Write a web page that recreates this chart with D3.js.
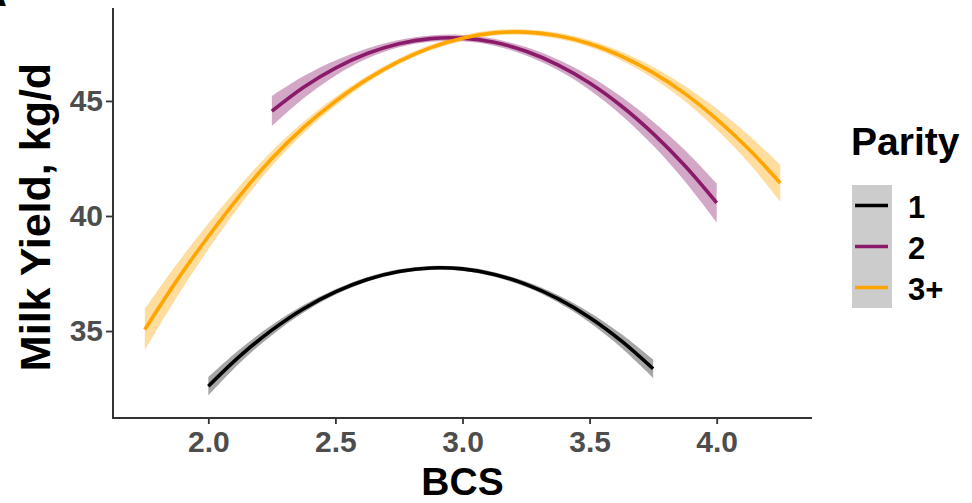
<!DOCTYPE html>
<html>
<head>
<meta charset="utf-8">
<script src="https://cdn.jsdelivr.net/npm/d3@7"></script>
<style>
  html, body { margin: 0; padding: 0; background: #fff; }
  svg { display: block; font-family: "Liberation Sans", Arial, sans-serif; }
</style>
</head>
<body>
<svg id="chart" width="972" height="503"></svg>
<script>
// ---- data ----
const parities = ["1", "2", "3+"];
const colors = ["#000000", "#8B1A6B", "#FFA500"];

const bcs1 = [2.0, 2.125, 2.25, 2.375, 2.5, 2.625, 2.75, 2.875, 3.0, 3.125, 3.25, 3.375, 3.5, 3.625, 3.75];
const yield1 = [32.60, 33.92, 35.04, 35.97, 36.70, 37.24, 37.59, 37.74, 37.70, 37.46, 37.03, 36.41, 35.59, 34.57, 33.36];
const se1 = [0.40, 0.30, 0.22, 0.16, 0.12, 0.10, 0.09, 0.09, 0.09, 0.10, 0.12, 0.16, 0.22, 0.30, 0.40];

const bcs2 = [2.25, 2.375, 2.5, 2.625, 2.75, 2.875, 3.0, 3.125, 3.25, 3.375, 3.5, 3.625, 3.75, 3.875, 4.0];
const yield2 = [44.56, 45.60, 46.43, 47.06, 47.49, 47.71, 47.73, 47.55, 47.16, 46.57, 45.78, 44.78, 43.58, 42.18, 40.57];
const se2 = [0.65, 0.48, 0.33, 0.22, 0.16, 0.14, 0.14, 0.15, 0.18, 0.23, 0.30, 0.40, 0.52, 0.68, 0.85];

const bcs3 = [1.75, 1.875, 2.0, 2.125, 2.25, 2.375, 2.5, 2.625, 2.75, 2.875, 3.0, 3.125, 3.25, 3.375, 3.5, 3.625, 3.75, 3.875, 4.0, 4.125, 4.25];
const yield3 = [35.06, 37.18, 39.11, 40.90, 42.50, 43.85, 44.98, 45.94, 46.72, 47.32, 47.73, 47.96, 47.99, 47.83, 47.49, 46.95, 46.23, 45.32, 44.21, 42.92, 41.43];
const se3 = [0.90, 0.72, 0.56, 0.43, 0.33, 0.25, 0.19, 0.15, 0.13, 0.12, 0.12, 0.12, 0.12, 0.13, 0.15, 0.19, 0.25, 0.33, 0.45, 0.60, 0.80];

const xTicks = [2.0, 2.5, 3.0, 3.5, 4.0];
const yTicks = [35, 40, 45];
const xDomain = [1.625, 4.375];
const yDomain = [31.22, 49.04];

// ---- layout ----
const svg = d3.select("#chart");
const plot = { left: 113, right: 812, top: 8, bottom: 418 };

const x = d3.scaleLinear().domain(xDomain).range([plot.left, plot.right]);
const y = d3.scaleLinear().domain(yDomain).range([plot.bottom, plot.top]);

const series = [
  { bcs: bcs1, val: yield1, se: se1 },
  { bcs: bcs2, val: yield2, se: se2 },
  { bcs: bcs3, val: yield3, se: se3 }
].map((s, i) => ({
  name: parities[i],
  color: colors[i],
  pts: s.bcs.map((b, j) => ({ b: b, v: s.val[j], lo: s.val[j] - s.se[j], hi: s.val[j] + s.se[j] }))
}));

const area = d3.area()
  .x(d => x(d.b)).y0(d => y(d.lo)).y1(d => y(d.hi))
  .curve(d3.curveCatmullRom);
const line = d3.line()
  .x(d => x(d.b)).y(d => y(d.v))
  .curve(d3.curveCatmullRom);

// ribbons
svg.append("g").selectAll("path").data(series).join("path")
  .attr("d", d => area(d.pts))
  .attr("fill", d => d.color)
  .attr("fill-opacity", d => d.name === "1" ? 0.35 : 0.38);

// lines
svg.append("g").selectAll("path").data(series).join("path")
  .attr("d", d => line(d.pts))
  .attr("fill", "none")
  .attr("stroke", d => d.color)
  .attr("stroke-width", 3.6);

// axes
const xAxis = d3.axisBottom(x).tickValues(xTicks).tickFormat(d3.format(".1f"))
  .tickSize(6).tickPadding(7).tickSizeOuter(0);
const yAxis = d3.axisLeft(y).tickValues(yTicks).tickFormat(d3.format("d"))
  .tickSize(7).tickPadding(3).tickSizeOuter(0);

const gx = svg.append("g").attr("transform", `translate(0,${plot.bottom})`).call(xAxis);
const gy = svg.append("g").attr("transform", `translate(${plot.left},0)`).call(yAxis);

[gx, gy].forEach(g => {
  g.select(".domain").remove();
  g.selectAll(".tick line").attr("stroke", "#333").attr("stroke-width", 1.8);
  g.selectAll(".tick text")
    .attr("fill", "#4D4D4D")
    .attr("font-size", 30)
    .attr("font-weight", "bold")
    .attr("font-family", "Liberation Sans, Arial, sans-serif");
});

// axis lines (classic theme)
svg.append("path")
  .attr("d", `M${plot.left},${plot.top}V${plot.bottom}H${plot.right}`)
  .attr("fill", "none").attr("stroke", "#333").attr("stroke-width", 2);

// axis titles
svg.append("text")
  .attr("x", (plot.left + plot.right) / 2).attr("y", 494.5)
  .attr("text-anchor", "middle")
  .attr("font-size", 39).attr("font-weight", "bold").attr("fill", "#000")
  .text("BCS");

svg.append("text")
  .attr("transform", "translate(50,217) rotate(-90)")
  .attr("text-anchor", "middle")
  .attr("font-size", 43).attr("font-weight", "bold").attr("fill", "#000")
  .text("Milk Yield, kg/d");

// panel tag (mostly clipped in the reference)
svg.append("text")
  .attr("x", -22).attr("y", 6)
  .attr("font-size", 40).attr("font-weight", "bold").attr("fill", "#000")
  .text("A");

// legend
const lg = svg.append("g");
lg.append("text")
  .attr("x", 851).attr("y", 155)
  .attr("font-size", 39).attr("font-weight", "bold").attr("fill", "#000")
  .text("Parity");

const keyTop = 185, keyH = 41, keyX = 852, keyW = 40;
const keys = lg.selectAll("g.key").data(series).join("g").attr("class", "key")
  .attr("transform", (d, i) => `translate(${keyX},${keyTop + i * keyH})`);
keys.append("rect")
  .attr("width", keyW).attr("height", keyH)
  .attr("fill", "#CCCCCC");
keys.append("line")
  .attr("x1", 3).attr("x2", 36)
  .attr("y1", keyH / 2).attr("y2", keyH / 2)
  .attr("stroke", d => d.color).attr("stroke-width", 3.6);
keys.append("text")
  .attr("x", 56).attr("y", keyH / 2 + 12)
  .attr("font-size", 31).attr("font-weight", "bold").attr("fill", "#000")
  .text(d => d.name);
</script>
</body>
</html>
